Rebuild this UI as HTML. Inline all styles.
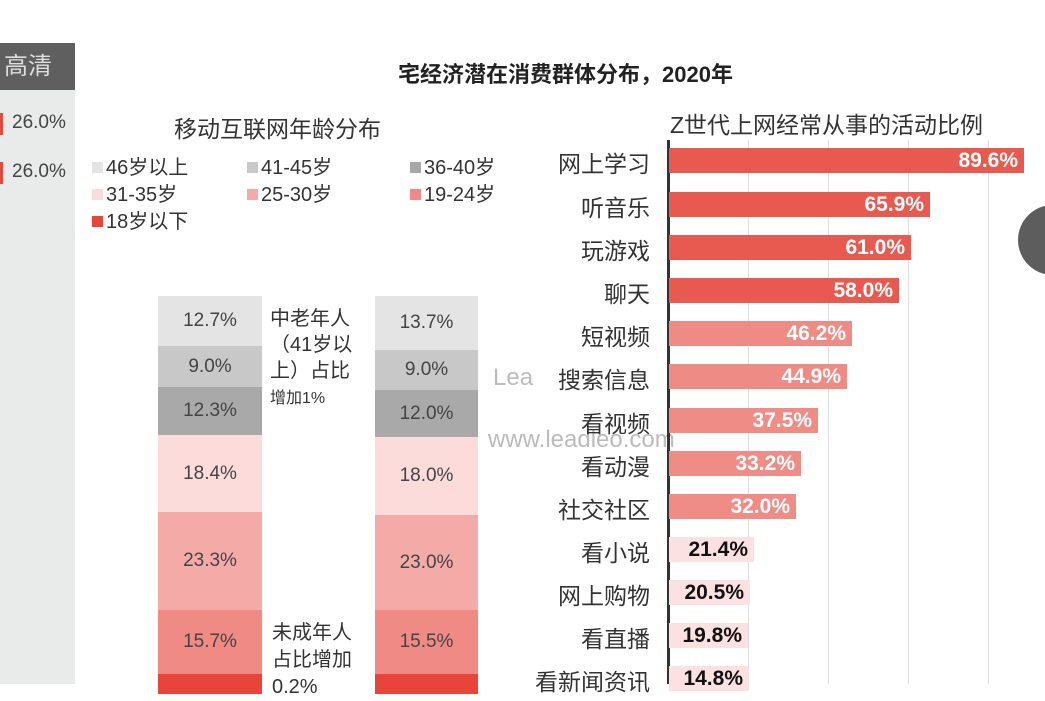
<!DOCTYPE html>
<html><head><meta charset="utf-8"><style>
body{margin:0;width:1045px;height:684px;overflow:hidden;background:#fff;position:relative;font-family:"Liberation Sans","Noto Sans CJK SC",sans-serif;color:#333}
.a{position:absolute;white-space:nowrap}
.seg{position:absolute;left:0;width:100%;display:flex;align-items:center;justify-content:center;font-size:19px;color:#444}
.lab{position:absolute;right:0;font-size:23px;color:#333;text-align:right}
.bar{position:absolute;left:669px;height:25px;color:#fff;font-size:21px;font-weight:bold;text-align:right;line-height:25px;box-sizing:border-box;padding-right:6px}
.sq{display:inline-block;width:11px;height:11px;margin-right:3px;vertical-align:1px}
</style></head><body>
<div class="a" style="left:0;top:43px;width:75px;height:47px;background:#5f5f5f;color:#ddd;font-size:24px;line-height:47px;padding-left:4px;box-sizing:border-box">高清</div>
<div class="a" style="left:0;top:90px;width:75px;height:594px;background:#e9eaea"></div>
<div class="a" style="left:0;top:113px;width:3px;height:22px;background:#e24a40"></div>
<div class="a" style="left:0;top:162px;width:3px;height:22px;background:#e24a40"></div>
<div class="a" style="left:12px;top:112px;font-size:19px;color:#444">26.0%</div>
<div class="a" style="left:12px;top:161px;font-size:19px;color:#444">26.0%</div>
<div class="a" style="left:1018px;top:205px;width:70px;height:70px;border-radius:50%;background:#5d5d5d"></div>

<div class="a" style="left:398px;top:57px;font-size:22px;font-weight:bold;color:#222">宅经济潜在消费群体分布，2020年</div>
<div class="a" style="left:174px;top:110px;font-size:23px;color:#333">移动互联网年龄分布</div>
<div class="a" style="left:670px;top:106px;font-size:23px;color:#333">Z世代上网经常从事的活动比例</div>

<div class="a" style="left:92px;top:155px;font-size:20px;line-height:27px;color:#333">
<div style="position:absolute;left:0;top:0"><span class="sq" style="background:#e4e4e4"></span>46岁以上</div>
<div style="position:absolute;left:155px;top:0"><span class="sq" style="background:#c8c8c8"></span>41-45岁</div>
<div style="position:absolute;left:318px;top:0"><span class="sq" style="background:#a8a8a8"></span>36-40岁</div>
<div style="position:absolute;left:0;top:27px"><span class="sq" style="background:#fadcdb"></span>31-35岁</div>
<div style="position:absolute;left:155px;top:27px"><span class="sq" style="background:#f4aaa6"></span>25-30岁</div>
<div style="position:absolute;left:318px;top:27px"><span class="sq" style="background:#ef8a84"></span>19-24岁</div>
<div style="position:absolute;left:0;top:54px"><span class="sq" style="background:#e8443a"></span>18岁以下</div>
</div>

<div class="a" style="left:158px;top:296px;width:104px;height:388px">
<div class="seg" style="top:0;height:50px;background:#e4e4e4">12.7%</div>
<div class="seg" style="top:50px;height:41px;background:#c8c8c8">9.0%</div>
<div class="seg" style="top:91px;height:48px;background:#a9a9a9">12.3%</div>
<div class="seg" style="top:139px;height:77px;background:#fbdcdb">18.4%</div>
<div class="seg" style="top:216px;height:98px;background:#f4aaa6">23.3%</div>
<div class="seg" style="top:314px;height:64px;background:#ef8a84">15.7%</div>
<div class="seg" style="top:378px;height:20px;background:#e8443a"></div>
</div>
<div class="a" style="left:375px;top:296px;width:103px;height:388px">
<div class="seg" style="top:0;height:54px;background:#e4e4e4">13.7%</div>
<div class="seg" style="top:54px;height:40px;background:#c8c8c8">9.0%</div>
<div class="seg" style="top:94px;height:47px;background:#a9a9a9">12.0%</div>
<div class="seg" style="top:141px;height:78px;background:#fbdcdb">18.0%</div>
<div class="seg" style="top:219px;height:95px;background:#f4aaa6">23.0%</div>
<div class="seg" style="top:314px;height:64px;background:#ef8a84">15.5%</div>
<div class="seg" style="top:378px;height:20px;background:#e8443a"></div>
</div>
<div class="a" style="left:270px;top:306px;font-size:20px;line-height:26px;color:#333">中老年人<br>（41岁以<br>上）占比<br><span style="font-size:16px">增加1%</span></div>
<div class="a" style="left:272px;top:620px;font-size:20px;line-height:27px;color:#333">未成年人<br>占比增加<br>0.2%</div>

<div class="a" style="left:493px;top:364px;font-size:24px;color:#bbb">Lea</div>
<div class="a" style="left:488px;top:426px;font-size:24px;color:#bbb">www.leadleo.com</div>

<div class="a" style="left:667px;top:140px;width:3px;height:544px;background:#333"></div>
<div class="a" style="left:748px;top:140px;width:1px;height:544px;background:#ddd"></div>
<div class="a" style="left:828px;top:140px;width:1px;height:544px;background:#ddd"></div>
<div class="a" style="left:908px;top:140px;width:1px;height:544px;background:#ddd"></div>
<div class="a" style="left:988px;top:140px;width:1px;height:544px;background:#ddd"></div>

<div class="a" style="left:0;top:0;width:650px;height:684px">
<div class="lab" style="top:145px">网上学习</div>
<div class="lab" style="top:189px">听音乐</div>
<div class="lab" style="top:232px">玩游戏</div>
<div class="lab" style="top:275px">聊天</div>
<div class="lab" style="top:318px">短视频</div>
<div class="lab" style="top:361px">搜索信息</div>
<div class="lab" style="top:405px">看视频</div>
<div class="lab" style="top:448px">看动漫</div>
<div class="lab" style="top:491px">社交社区</div>
<div class="lab" style="top:534px">看小说</div>
<div class="lab" style="top:577px">网上购物</div>
<div class="lab" style="top:620px">看直播</div>
<div class="lab" style="top:663px">看新闻资讯</div>
</div>
<div class="bar" style="top:148px;width:355px;background:#e85a50">89.6%</div>
<div class="bar" style="top:192px;width:261px;background:#e85a50">65.9%</div>
<div class="bar" style="top:235px;width:242px;background:#e85a50">61.0%</div>
<div class="bar" style="top:278px;width:230px;background:#e85a50">58.0%</div>
<div class="bar" style="top:321px;width:183px;background:#ee8b85">46.2%</div>
<div class="bar" style="top:364px;width:178px;background:#ee8b85">44.9%</div>
<div class="bar" style="top:408px;width:149px;background:#ef8c86">37.5%</div>
<div class="bar" style="top:451px;width:132px;background:#ef8c86">33.2%</div>
<div class="bar" style="top:494px;width:127px;background:#ef8c86">32.0%</div>
<div class="bar" style="top:537px;width:85px;background:#fbe1e1;color:#111">21.4%</div>
<div class="bar" style="top:580px;width:81px;background:#fbe1e1;color:#111">20.5%</div>
<div class="bar" style="top:623px;width:79px;background:#fbe1e1;color:#111">19.8%</div>
<div class="bar" style="top:666px;width:80px;background:#fbe1e1;color:#111">14.8%</div>
</body></html>
